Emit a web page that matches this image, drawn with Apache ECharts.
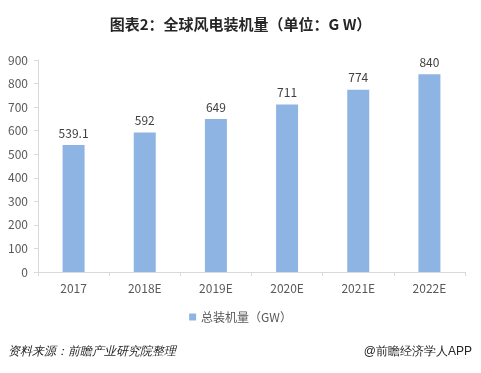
<!DOCTYPE html>
<html><head><meta charset="utf-8">
<script src="https://cdn.jsdelivr.net/npm/echarts@6/dist/echarts.min.js"></script>
<style>html,body{margin:0;padding:0;background:#fff}#c{width:481px;height:373px}</style>
</head><body><div id="c"></div>
<script>
var categories = ['2017','2018E','2019E','2020E','2021E','2022E'];
var values = [539.1, 592, 649, 711, 774, 840];
var valueLabels = ['539.1','592','649','711','774','840'];
var seriesName = '总装机量（GW）';
var chart = echarts.init(document.getElementById('c'));
var font = '"Microsoft YaHei","Noto Sans CJK SC",sans-serif';
chart.setOption({
  animation: false,
  textStyle: {fontFamily: font},
  title: {text: '图表2：全球风电装机量（单位：G W）', left: 'center', top: 12,
    textStyle: {fontSize: 15, fontWeight: 'bold', color: '#262626', fontFamily: font}},
  grid: {left: 38, right: 16, top: 60, bottom: 101},
  legend: {data: [seriesName], left: 'center', top: 306, itemWidth: 7, itemHeight: 7, itemGap: 4,
    icon: 'rect', textStyle: {fontSize: 12, color: '#595959', fontFamily: font}},
  xAxis: {type: 'category', data: categories,
    axisLine: {lineStyle: {color: '#d9d9d9'}},
    axisTick: {show: true, length: 4, lineStyle: {color: '#d9d9d9'}},
    axisLabel: {fontSize: 12, color: '#595959', margin: 10, fontFamily: font}},
  yAxis: {type: 'value', min: 0, max: 900, interval: 100,
    axisLine: {show: true, lineStyle: {color: '#d9d9d9'}},
    axisTick: {show: true, length: 4, lineStyle: {color: '#d9d9d9'}},
    splitLine: {show: false},
    axisLabel: {fontSize: 12, color: '#595959', margin: 10, fontFamily: font}},
  series: [{name: seriesName, type: 'bar', data: values, barWidth: 22,
    itemStyle: {color: '#8eb4e3'},
    label: {show: true, position: 'top', distance: 6, fontSize: 12, color: '#404040', fontFamily: font,
      formatter: function(p){return valueLabels[p.dataIndex];}}}],
  graphic: [
    {type: 'text', left: 8, top: 346, style: {text: '资料来源：前瞻产业研究院整理', fontSize: 12, fontStyle: 'italic', fill: '#262626', font: 'italic 12px ' + font}},
    {type: 'text', right: 9, top: 346, style: {text: '@前瞻经济学人APP', fontSize: 12, fill: '#262626', font: '12px ' + font}}
  ]
});
</script></body></html>
